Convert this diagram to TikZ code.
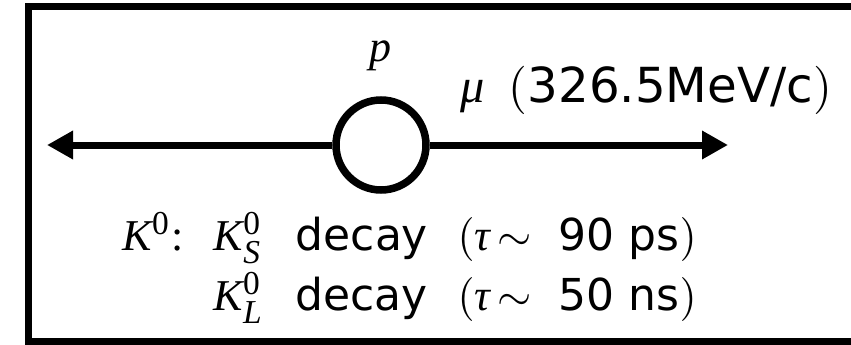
\documentclass[tikz,border=0pt]{standalone}
\usepackage{amsmath}
\usepackage{fontspec}
\setmainfont{DejaVu Sans}
\newfontfamily\mathlike{Liberation Serif}
\DeclareMathSizes{10}{10}{7.6}{5.5}
\newcommand{\mi}[1]{\text{\mathlike\itshape #1}}
\newcommand{\mr}[1]{\text{\mathlike #1}}
\newcommand{\sg}[2]{\makebox[#1pt][l]{#2}}
\usetikzlibrary{arrows.meta}
\tikzset{
  frame/.style={line width=7pt},
  particle/.style={circle, draw, line width=7.5pt, minimum size=90pt, inner sep=0pt, fill=white},
  track/.style={line width=7pt, -{Triangle[length=26pt,width=27pt]}},
  bigtxt/.style={scale=4.83, inner sep=0pt},
  midtxt/.style={scale=4.4, inner sep=0pt},
}
\begin{document}
\begin{tikzpicture}[x=1pt,y=-1pt]
\path[use as bounding box] (0,0) rectangle (851,345);
\clip (0,0) rectangle (851,345);
\draw[frame] (28,7) rectangle (900,341);
\coordinate (lt) at (47,145);
\coordinate (rt) at (728,145);
\node[particle] (c) at (381,145) {};
\draw[track] (c.west) -- (lt);
\draw[track] (c.east) -- (rt);
\node[midtxt, anchor=base] (p) at (380,62) {$\mi{p}$};
\node[bigtxt, anchor=base west] (mu) at (460,102) {\sg{9.9}{$\mi{μ}$}$($326.5MeV/c$)$};
\node[midtxt, anchor=base west] (k1) at (122,250) {\sg{20.7}{$\mi{K}^{\mr{0}}$\mr{:}}\sg{18.6}{$\mi{K}^{\mr{0}}_{\mi{S}}$}\sg{36.8}{decay}\sg{23}{$($\mi{τ}\hspace{1.5pt}$\sim$}90 ps$)$};
\node[midtxt, anchor=base west] (k2) at (213,310) {\sg{18.6}{$\mi{K}^{\mr{0}}_{\mi{L}}$}\sg{36.8}{decay}\sg{23}{$($\mi{τ}\hspace{1.5pt}$\sim$}50 ns$)$};
\end{tikzpicture}
\end{document}
